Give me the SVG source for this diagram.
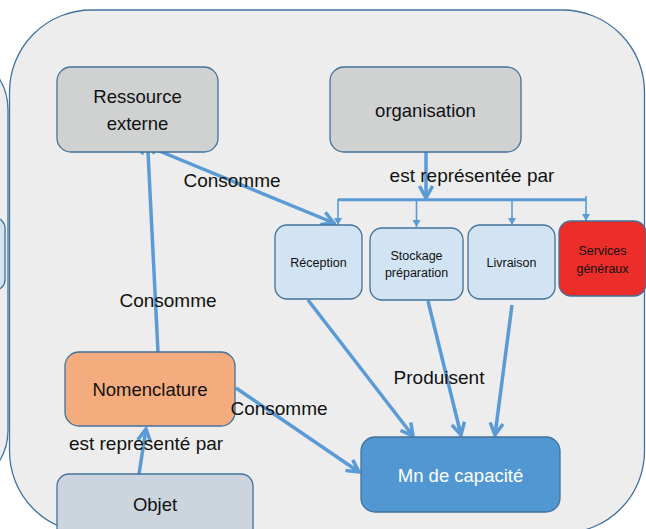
<svg xmlns="http://www.w3.org/2000/svg" width="646" height="529" viewBox="0 0 646 529">
  <style>
    .frame { fill: #ededed; stroke: #41719c; stroke-width: 1.3; }
    .node { stroke: #41719c; stroke-width: 1.3; }
    .gray { fill: #d0d1d1; }
    .pale { fill: #d2e4f3; }
    .red { fill: #ec2e2b; }
    .orange { fill: #f4ac7e; }
    .slate { fill: #ccd4dd; }
    .blue { fill: #5197d2; }
    text { font-family: "Liberation Sans", Arial, sans-serif; fill: #111; text-anchor: middle; }
    .big { font-size: 18.5px; }
    .small { font-size: 12.5px; }
    .lbl { font-size: 19px; }
    .white { fill: #ffffff; }
    .link { stroke: #5b9bd5; stroke-width: 3.5; fill: none; marker-end: url(#open); }
    .thin { stroke: #5b9bd5; stroke-width: 1.6; fill: none; }
    .drop { stroke: #5b9bd5; stroke-width: 1.6; fill: none; marker-end: url(#tri); }
  </style>
  <defs>
    <marker id="open" viewBox="-14 -8 16 16" refX="0" refY="0" markerWidth="16" markerHeight="16" markerUnits="userSpaceOnUse" orient="auto">
      <path d="M-12,-6.5 L0,0 L-12,6.5" fill="none" stroke="#5b9bd5" stroke-width="3.5"/>
    </marker>
    <marker id="tri" viewBox="-8 -5 10 10" refX="0" refY="0" markerWidth="10" markerHeight="10" markerUnits="userSpaceOnUse" orient="auto">
      <path d="M-7,-4 L0,0 L-7,4 Z" fill="#5b9bd5"/>
    </marker>
  </defs>

  <!-- background panels -->
  <g id="left-panel">
    <rect class="frame" x="-300" y="50" width="308" height="440" rx="60"/>
    <rect class="node pale" x="-60" y="218" width="65" height="72" rx="10"/>
  </g>
  <g id="main-panel">
    <rect class="frame" x="9.5" y="10" width="635" height="523" rx="82"/>
  </g>

  <!-- connectors -->
  <g id="connectors">
    <line class="link" x1="158" y1="352" x2="147.5" y2="142"/>
    <line class="link" x1="152" y1="148" x2="334" y2="223"/>
    <line class="link" x1="426" y1="152" x2="426" y2="198"/>
    <line class="link" x1="308" y1="300" x2="413" y2="436"/>
    <line class="link" x1="428" y1="301" x2="461" y2="435"/>
    <line class="link" x1="512" y1="305" x2="495" y2="435"/>
    <line class="link" x1="236" y1="388" x2="359" y2="472"/>
    <line class="link" x1="139" y1="474" x2="146" y2="429"/>
    <path class="thin" d="M338,199 H586 M338,200.5 H586 M586,196 V200"/>
    <line class="drop" x1="338" y1="199" x2="338" y2="225"/>
    <line class="drop" x1="416.5" y1="201" x2="416.5" y2="227"/>
    <line class="drop" x1="512" y1="201" x2="512" y2="225"/>
    <line class="drop" x1="586" y1="200" x2="586" y2="221"/>
  </g>

  <!-- nodes -->
  <g id="ressource-externe">
    <rect class="node gray" x="57" y="67" width="161" height="85" rx="14"/>
    <text class="big" x="137.5" y="103">Ressource</text>
    <text class="big" x="137.5" y="130">externe</text>
  </g>
  <g id="organisation">
    <rect class="node gray" x="330" y="67" width="191" height="85" rx="14"/>
    <text class="big" x="425.5" y="117">organisation</text>
  </g>
  <g id="reception">
    <rect class="node pale" x="275" y="225" width="87" height="74" rx="12"/>
    <text class="small" x="318.5" y="267">Réception</text>
  </g>
  <g id="stockage">
    <rect class="node pale" x="370" y="228" width="93" height="72" rx="12"/>
    <text class="small" x="416.5" y="260">Stockage</text>
    <text class="small" x="416.5" y="277">préparation</text>
  </g>
  <g id="livraison">
    <rect class="node pale" x="468" y="225" width="87" height="74" rx="12"/>
    <text class="small" x="511.5" y="267">Livraison</text>
  </g>
  <g id="services-generaux">
    <rect class="node red" x="559" y="221" width="87" height="75" rx="12"/>
    <text class="small" x="602.5" y="255">Services</text>
    <text class="small" x="602.5" y="273">généraux</text>
  </g>
  <g id="nomenclature">
    <rect class="node orange" x="65" y="352" width="170" height="74" rx="14"/>
    <text class="big" x="150" y="396">Nomenclature</text>
  </g>
  <g id="objet">
    <rect class="node slate" x="57" y="474" width="196" height="70" rx="12"/>
    <text class="big" x="155" y="511">Objet</text>
  </g>
  <g id="mn-de-capacite">
    <rect class="node blue" x="361" y="437" width="199" height="75" rx="14"/>
    <text class="big white" x="460.5" y="482">Mn de capacité</text>
  </g>

  <!-- connector labels -->
  <g id="labels">
    <text class="lbl" x="232" y="187">Consomme</text>
    <text class="lbl" x="472" y="182">est représentée par</text>
    <text class="lbl" x="168" y="307">Consomme</text>
    <text class="lbl" x="279" y="415">Consomme</text>
    <text class="lbl" x="146" y="450">est representé par</text>
    <text class="lbl" x="439" y="384">Produisent</text>
  </g>
</svg>
